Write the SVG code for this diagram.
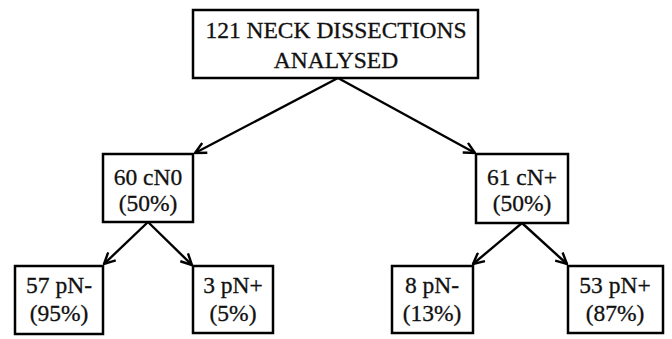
<svg xmlns="http://www.w3.org/2000/svg" width="672" height="339" viewBox="0 0 672 339">
<style>
.box{fill:#fff;stroke:#000;stroke-width:2.5}
.t{font-family:"Liberation Serif","Times New Roman",serif;font-size:23.5px;fill:#111;stroke:#111;stroke-width:0.3;text-anchor:middle}
.c{stroke:#000;stroke-width:2.4;fill:none;marker-end:url(#ah)}
</style>
<defs>
<marker id="ah" viewBox="0 0 13 13" refX="12" refY="6.5" markerWidth="13" markerHeight="13" markerUnits="userSpaceOnUse" orient="auto">
<polyline points="1,1 12,6.5 1,12" fill="none" stroke="#000" stroke-width="2.4"/>
</marker>
</defs>
<rect width="672" height="339" fill="#fff"/>
<g id="connectors">
<line class="c" x1="338" y1="78" x2="195" y2="153"/>
<line class="c" x1="338" y1="78" x2="475" y2="153"/>
<line class="c" x1="148" y1="222" x2="104" y2="264"/>
<line class="c" x1="148" y1="222" x2="192" y2="265"/>
<line class="c" x1="522" y1="223" x2="473" y2="264"/>
<line class="c" x1="522" y1="223" x2="567" y2="264"/>
</g>
<g id="root">
<rect class="box" x="193" y="10" width="285" height="68"/>
<text class="t" x="336" y="38">121 NECK DISSECTIONS</text>
<text class="t" x="336" y="68">ANALYSED</text>
</g>
<g id="cN0">
<rect class="box" x="103" y="154" width="90" height="68"/>
<text class="t" x="148" y="185">60 cN0</text>
<text class="t" x="148" y="211">(50%)</text>
</g>
<g id="cNplus">
<rect class="box" x="476" y="154" width="92" height="69"/>
<text class="t" x="522" y="185">61 cN+</text>
<text class="t" x="522" y="211">(50%)</text>
</g>
<g id="pNminus57">
<rect class="box" x="15" y="266" width="88" height="68"/>
<text class="t" x="59" y="293">57 pN-</text>
<text class="t" x="59" y="321">(95%)</text>
</g>
<g id="pNplus3">
<rect class="box" x="193" y="266" width="80" height="67"/>
<text class="t" x="233" y="293">3 pN+</text>
<text class="t" x="233" y="321">(5%)</text>
</g>
<g id="pNminus8">
<rect class="box" x="392" y="266" width="81" height="67"/>
<text class="t" x="432" y="293">8 pN-</text>
<text class="t" x="432" y="321">(13%)</text>
</g>
<g id="pNplus53">
<rect class="box" x="568" y="266" width="95" height="67"/>
<text class="t" x="615" y="293">53 pN+</text>
<text class="t" x="615" y="321">(87%)</text>
</g>
</svg>
